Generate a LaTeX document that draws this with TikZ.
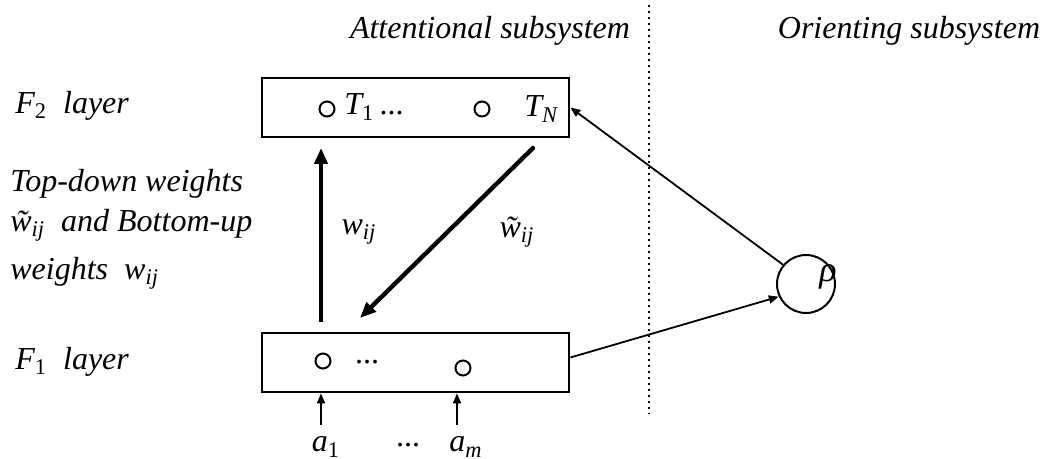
\documentclass[tikz,border=0pt]{standalone}
\usepackage{fontspec}
\setmainfont{Liberation Serif}
\usepackage{tikz}
\usetikzlibrary{positioning, arrows.meta, calc}
\newcommand{\wij}{\textit{w}\textsubscript{\textit{ij}}}
\newcommand{\twij}{\textit{\~{w}}\textsubscript{\textit{ij}}}
\tikzset{
  layerbox/.style={draw, line width=1.4pt, minimum width=153.5pt, minimum height=29.5pt, inner sep=0pt},
  unit/.style={draw, circle, line width=1pt, minimum size=7.5pt, inner sep=0pt},
  txt/.style={font=\fontsize{16}{19}\selectfont\itshape, inner sep=0pt},
  arr/.style={-{Triangle[length=8pt, width=6.5pt]}, line width=2.2pt},
  thinarr/.style={-{Triangle[length=5pt, width=4pt]}, line width=0.9pt},
}
\begin{document}
\begin{tikzpicture}[x=0.5pt, y=-0.5pt]
\useasboundingbox (0,0) rectangle (1041,459);
\node[layerbox] (F2) at (415.5,107.5) {};
\node[layerbox] (F1) at (415.5,362.5) {};
\node[unit] (t1) at (327,109) {};
\node[txt, anchor=west] (t1txt) at (344,107) {\textit{T}\textsubscript{\textup{1}}\,\textup{...}};
\node[unit] (tn) at (482,109) {};
\node[txt, anchor=west] (tntxt) at (524,109) {\textit{T}\textsubscript{\textit{N}}};
\node[unit] (f1a) at (323,361) {};
\node[txt] (f1dots) at (367,362) {\textup{...}};
\node[unit] (f1m) at (463,368) {};
\node[txt, anchor=west] (F2lbl) at (15,106) {\textit{F}\textsubscript{\textup{2}}\ \ layer};
\node[txt, anchor=west] (F1lbl) at (15,362) {\textit{F}\textsubscript{\textup{1}}\ \ layer};
\node[txt, anchor=west, align=left] (wlbl) at (10,229) {Top-down weights\\[1pt]\twij\ \ and Bottom-up\\[5pt]weights \ \wij};
\node[txt] (attn) at (490,31) {Attentional subsystem};
\node[txt] (orient) at (909,31) {Orienting subsystem};
\node[txt] (wup) at (359,232) {\wij};
\node[txt] (wdown) at (517,232) {\twij};
\node[draw, circle, line width=1pt, minimum size=29pt, inner sep=0pt] (rho) at (806,284) {};
\node[txt, font=\fontsize{18}{20}\selectfont\itshape] (rhotxt) at (828,277) {ρ};
\node[txt] (a1) at (326,447) {\textit{a}\textsubscript{\textup{1}}};
\node[txt] (adots) at (408,445) {\textup{...}};
\node[txt] (am) at (466,447) {\textit{a}\textsubscript{\textit{m}}};
\coordinate (divtop) at (649,5);
\coordinate (divbot) at (649,414);
\coordinate (upfrom) at (321,322);
\coordinate (upto) at (321,148);
\coordinate (dnfrom) at (533,148);
\coordinate (dnto) at (360,318);
\coordinate (in1) at (321,425);
\coordinate (inm) at (457,425);
\draw[dotted, line width=1pt] (divtop) -- (divbot);
\draw[arr] (upfrom) -- (upto);
\draw[arr, line cap=round] (dnfrom) -- (dnto);
\draw[thinarr] (rho.140) -- (F2.east);
\draw[thinarr] ([yshift=2.5pt]F1.east) -- (rho.205);
\draw[thinarr] (in1) -- (in1 |- F1.south);
\draw[thinarr] (inm) -- (inm |- F1.south);
\end{tikzpicture}
\end{document}
